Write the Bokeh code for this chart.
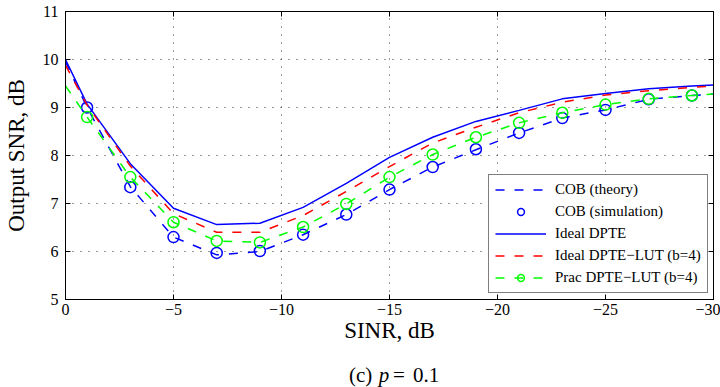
from bokeh.plotting import figure
from bokeh.layouts import column
from bokeh.models import Range1d, LinearAxis, FixedTicker, Legend, LegendItem
from bokeh.core.properties import value
from bokeh.embed import file_html
from bokeh.resources import INLINE

# ---------------- data ----------------
x_line = [0, -1, -3, -5, -7, -9, -11, -13, -15, -17, -19, -21, -23, -25, -27, -29, -30]
x_sim = [-1, -3, -5, -7, -9, -11, -13, -15, -17, -19, -21, -23, -25, -27, -29]

cob_theory = [9.95, 9.00, 7.35, 6.30, 5.93, 6.00, 6.35, 6.77, 7.29, 7.76, 8.12, 8.47, 8.78, 8.95, 9.17, 9.25, 9.28]
cob_sim = [9.00, 7.34, 6.30, 5.97, 6.01, 6.35, 6.77, 7.29, 7.76, 8.13, 8.47, 8.78, 8.95, 9.17, 9.25]
ideal_dpte = [10.00, 9.07, 7.83, 6.90, 6.56, 6.59, 6.92, 7.42, 7.96, 8.38, 8.71, 8.94, 9.18, 9.29, 9.39, 9.45, 9.47]
ideal_lut = [9.88, 9.05, 7.78, 6.79, 6.40, 6.40, 6.75, 7.25, 7.77, 8.26, 8.59, 8.89, 9.11, 9.26, 9.35, 9.42, 9.45]
prac_lut_line = [9.45, 8.80, 7.55, 6.61, 6.22, 6.19, 6.51, 6.99, 7.55, 8.02, 8.38, 8.68, 8.89, 9.06, 9.18, 9.25, 9.28]
prac_lut_sim = [8.80, 7.55, 6.61, 6.22, 6.19, 6.51, 6.99, 7.55, 8.02, 8.38, 8.68, 8.89, 9.06, 9.18, 9.25]

x_ticks = [0, -5, -10, -15, -20, -25, -30]
x_tick_labels = ["0", "\u22125", "\u221210", "\u221215", "\u221220", "\u221225", "\u221230"]
y_ticks = [5, 6, 7, 8, 9, 10, 11]

legend_labels = ["COB (theory)", "COB (simulation)", "Ideal DPTE",
                 "Ideal DPTE\u2212LUT (b=4)", "Prac DPTE\u2212LUT (b=4)"]

caption_parts = ["(c)", "p", "=", "0.1"]

BLUE = "#0000ff"
RED = "#ff0000"
GREEN = "#00ff00"
SERIF = "Liberation Serif"
DASH = "9 10"

# ---------------- main figure ----------------
p = figure(width=720, height=351, output_backend="svg", toolbar_location=None,
           x_range=Range1d(0, -30), y_range=Range1d(5, 11),
           min_border_left=60, min_border_right=7, min_border_top=11,
           min_border_bottom=52)
p.outline_line_color = "black"
p.outline_line_width = 1
p.background_fill_color = "white"
p.border_fill_color = "white"

for g in (p.xgrid, p.ygrid):
    g.grid_line_color = "#333333"
    g.grid_line_dash = "1 7"
    g.grid_line_width = 1
p.xgrid.ticker = FixedTicker(ticks=x_ticks)
p.ygrid.ticker = FixedTicker(ticks=y_ticks)

xa = p.xaxis[0]
ya = p.yaxis[0]
xa.ticker = FixedTicker(ticks=x_ticks)
xa.major_label_overrides = {t: s for t, s in zip(x_ticks, x_tick_labels)}
ya.ticker = FixedTicker(ticks=y_ticks)
for ax in (xa, ya):
    ax.axis_line_color = "black"
    ax.axis_line_width = 1
    ax.major_tick_in = 5
    ax.major_tick_out = 0
    ax.major_tick_line_color = "black"
    ax.minor_tick_in = 0
    ax.minor_tick_out = 0
    ax.major_label_text_font = SERIF
    ax.major_label_text_font_size = "16px"
    ax.major_label_text_color = "black"
    ax.axis_label_text_font = SERIF
    ax.axis_label_text_font_size = "23px"
    ax.axis_label_text_font_style = "normal"
    ax.axis_label_text_color = "black"
xa.axis_label = "SINR, dB"
ya.axis_label = "Output SNR, dB"
xa.major_label_standoff = 4
xa.axis_label_standoff = 0
ya.major_label_standoff = 7
ya.axis_label_standoff = 11

top = LinearAxis(ticker=FixedTicker(ticks=x_ticks))
right = LinearAxis(ticker=FixedTicker(ticks=y_ticks))
for ax in (top, right):
    ax.axis_line_color = "black"
    ax.major_tick_in = 5
    ax.major_tick_out = 0
    ax.minor_tick_in = 0
    ax.minor_tick_out = 0
    ax.major_label_text_font_size = "0px"
    ax.major_label_text_alpha = 0
    ax.major_label_standoff = 0
p.add_layout(top, "above")
p.add_layout(right, "right")

r_theory = p.line(x_line, cob_theory, line_color=BLUE, line_width=1.5, line_dash=DASH)
r_sim = p.scatter(x_sim, cob_sim, marker="circle", size=11, fill_alpha=0,
                  line_color=BLUE, line_width=1.5)
r_ideal = p.line(x_line, ideal_dpte, line_color=BLUE, line_width=1.5)
r_lut = p.line(x_line, ideal_lut, line_color=RED, line_width=1.5, line_dash=DASH)
r_prac = p.line(x_line, prac_lut_line, line_color=GREEN, line_width=1.5, line_dash=DASH)
r_prac_m = p.scatter(x_sim, prac_lut_sim, marker="circle", size=11, fill_alpha=0,
                     line_color=GREEN, line_width=1.5)

legend = Legend(items=[
    LegendItem(label=legend_labels[0], renderers=[r_theory]),
    LegendItem(label=legend_labels[1], renderers=[r_sim]),
    LegendItem(label=legend_labels[2], renderers=[r_ideal]),
    LegendItem(label=legend_labels[3], renderers=[r_lut]),
    LegendItem(label=legend_labels[4], renderers=[r_prac, r_prac_m]),
])
legend.location = (423, 6)
legend.margin = 0
legend.padding = 6
legend.spacing = 5
legend.glyph_width = 51
legend.glyph_height = 17
legend.label_height = 17
legend.label_standoff = 9
legend.label_text_font = SERIF
legend.label_text_font_size = "15px"
legend.label_text_color = "black"
legend.border_line_color = "black"
legend.border_line_width = 1
legend.background_fill_color = "white"
legend.background_fill_alpha = 1
p.add_layout(legend, "center")

# ---------------- caption strip ----------------
cap = figure(width=720, height=36, output_backend="svg", toolbar_location=None,
             x_range=Range1d(0, 720), y_range=Range1d(0, 36),
             min_border=0, min_border_left=0, min_border_right=0,
             min_border_top=0, min_border_bottom=0)
cap.axis.visible = False
cap.grid.visible = False
cap.outline_line_color = None
cap.background_fill_color = "white"
cap.border_fill_color = "white"

cap_x = [315, 348, 364, 386]
cap_styles = ["normal", "italic", "normal", "normal"]
for txt, xx, st in zip(caption_parts, cap_x, cap_styles):
    cap.text(x=[xx], y=[13], text=[txt], text_font=value(SERIF),
             text_font_size="21px", text_font_style=st,
             text_baseline="middle", text_align="left", text_color="black")

layout = column(p, cap, spacing=0)
open("out.html", "w").write(file_html(layout, INLINE))
